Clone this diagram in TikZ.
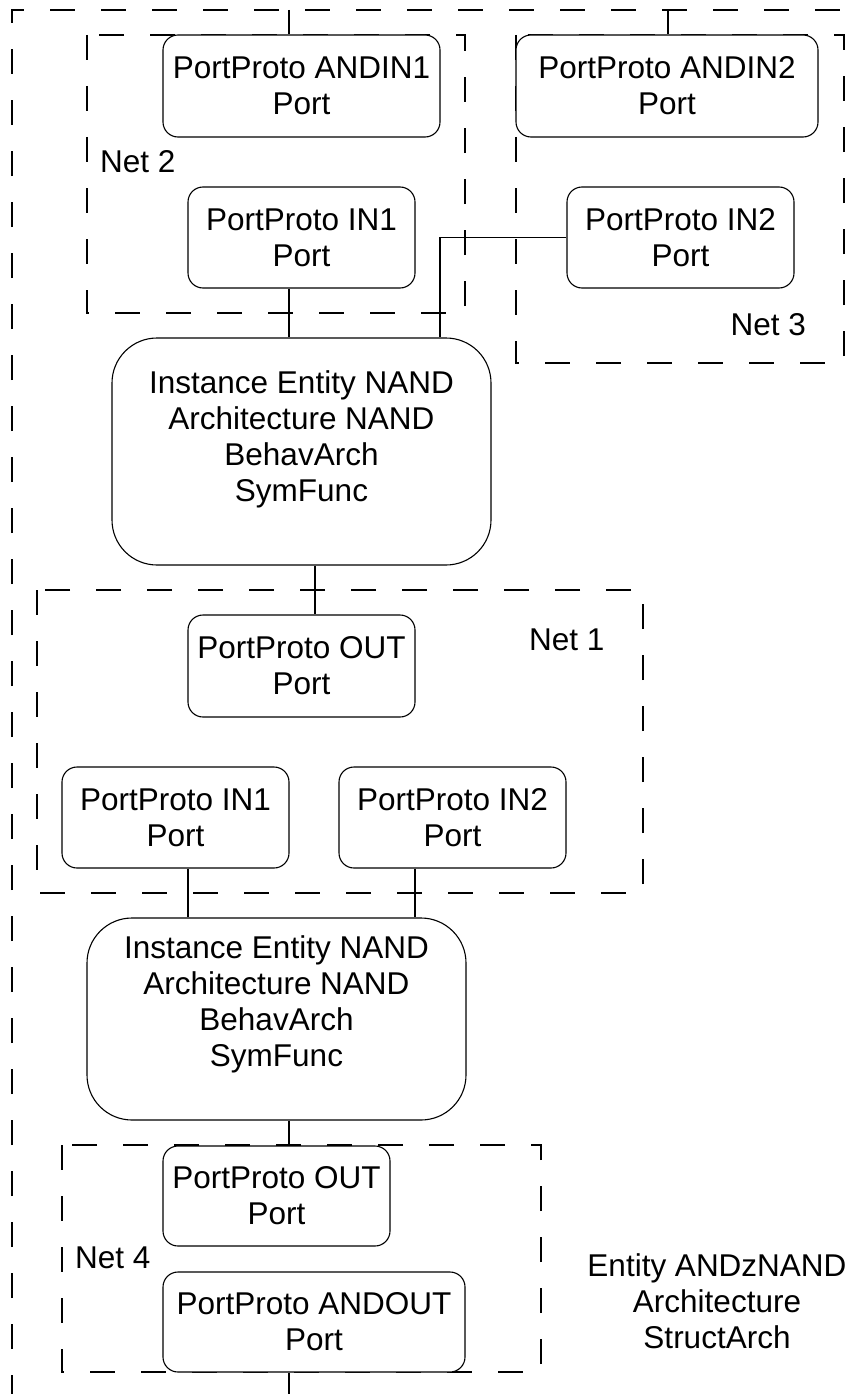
\documentclass[tikz,border=0pt]{standalone}
\usepackage{fontspec}
\setmainfont{Liberation Sans}
\begin{document}
\begin{tikzpicture}[x=1pt,y=-1pt,
  every node/.style={font=\fontsize{31.5}{36}\selectfont, inner sep=0pt},
  port/.style={draw, fill=white, rounded corners=15pt, minimum width=227pt,
    minimum height=101pt, align=center, line width=1.1pt},
  inst/.style={draw, fill=white, rounded corners=45pt, minimum width=379pt,
    line width=1.1pt},
  net/.style={draw, dash pattern=on 25pt off 26pt, line width=1.1pt},
  wire/.style={draw, line width=1.1pt},
  lbl/.style={align=center}]
\useasboundingbox (0,0) rectangle (863,1394);

% net groupings
\draw[net] (87,35) rectangle (465,313);
\draw[net] (516,35) rectangle (844,363);
\draw[net] (37,590) rectangle (643,893);
\draw[net] (62,1145) rectangle (541,1372);
% enclosing entity frame
\draw[net] (12,1400) -- (12,10) -- (880,10);

% ports and instances
\node[port, minimum width=277pt, minimum height=102pt] (andin1) at (301.5,86) {PortProto ANDIN1\\Port};
\node[port, minimum width=302pt, minimum height=102pt] (andin2) at (667,86) {PortProto ANDIN2\\Port};
\node[port] (in1a) at (301.5,237.5) {PortProto IN1\\Port};
\node[port] (in2a) at (680.5,237.5) {PortProto IN2\\Port};
\node[inst, minimum height=227pt] (nand1) at (301.5,451.5) {};
\node[lbl] (nand1txt) at (301.5,439) {Instance Entity NAND\\Architecture NAND\\BehavArch\\SymFunc};
\node[port, minimum height=102pt] (out1) at (301.5,666) {PortProto OUT\\Port};
\node[port] (in1b) at (175.5,817.5) {PortProto IN1\\Port};
\node[port] (in2b) at (452.5,817.5) {PortProto IN2\\Port};
\node[inst, minimum height=202pt] (nand2) at (276.5,1019) {};
\node[lbl] (nand2txt) at (276.5,1004) {Instance Entity NAND\\Architecture NAND\\BehavArch\\SymFunc};
\node[port, minimum height=100pt] (out2) at (276.5,1196) {PortProto OUT\\Port};
\node[port, minimum width=302pt, minimum height=100pt] (andout) at (314,1322) {PortProto ANDOUT\\Port};

% labels
\node[anchor=west] (net2) at (100,162) {Net 2};
\node[anchor=east] (net3) at (806,325) {Net 3};
\node[anchor=west] (net1) at (529,640) {Net 1};
\node[anchor=west] (net4) at (75,1258) {Net 4};
\node[lbl] (entity) at (717,1301) {Entity ANDzNAND\\Architecture\\StructArch};

% wiring columns
\coordinate (colA) at (289,0);
\coordinate (colB) at (440,0);
\coordinate (colC) at (315,0);
\coordinate (colD) at (188,0);
\coordinate (colE) at (415,0);
\coordinate (top1) at (289,10);
\coordinate (top2) at (668,10);
\coordinate (bot) at (289,1394);

\draw[wire] (top1) -- (top1 |- andin1.north);
\draw[wire] (top2) -- (top2 |- andin2.north);
\draw[wire] (in1a.south -| colA) -- (nand1.north -| colA);
\draw[wire] (in2a.west) -| (nand1.north -| colB);
\draw[wire] (nand1.south -| colC) -- (out1.north -| colC);
\draw[wire] (in1b.south -| colD) -- (nand2.north -| colD);
\draw[wire] (in2b.south -| colE) -- (nand2.north -| colE);
\draw[wire] (nand2.south -| colA) -- (out2.north -| colA);
\draw[wire] (andout.south -| colA) -- (bot);
\end{tikzpicture}
\end{document}
